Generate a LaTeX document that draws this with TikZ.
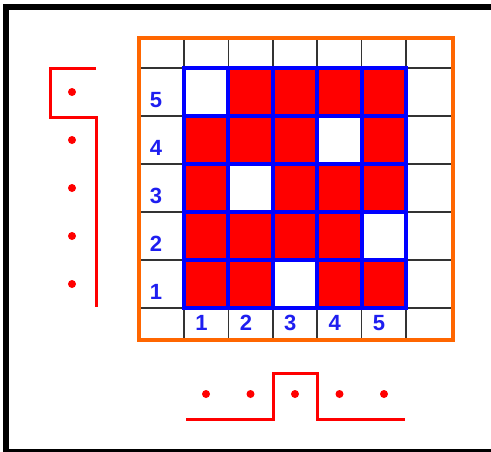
\documentclass[tikz,border=0pt]{standalone}
\usepackage{fontspec}
\setmainfont{Liberation Sans}
\usetikzlibrary{positioning, calc}
\definecolor{framecol}{RGB}{255,102,0}
\definecolor{numblue}{RGB}{30,30,240}
\tikzset{
  gridline/.style={draw=black!80, line width=1.6pt},
  blueline/.style={draw=blue, line width=4pt},
  frame/.style={draw=framecol, line width=3.5pt},
  numlabel/.style={
    text=numblue, inner sep=0pt,
    font=\bfseries\fontsize{22}{22}\selectfont
  },
  signal/.style={draw=red, line width=3pt},
  dot/.style={circle, fill=red, inner sep=0pt, minimum size=8pt}
}

\begin{document}
\begin{tikzpicture}[x=1pt, y=-1pt]
\useasboundingbox (0,0) rectangle (491,451);

% Outer border
\begin{scope}
  \clip (0,0) rectangle (491,451);
  \draw[line width=6pt] (6,6.5) rectangle (493.5,451.5);
\end{scope}

% Cells
\fill[red] (184,68) rectangle (406,308);
\foreach \c/\r in {1/5, 4/4, 2/3, 5/2, 3/1}
  \fill[white] ({184+(\c-1)*44.4},{308-\r*48}) rectangle ++(44.4,48);

% Black grid
\foreach \i in {0,...,5}
  \draw[gridline] ({184+\i*44.4},38) -- ({184+\i*44.4},340);
\foreach \j in {0,...,5}
  \draw[gridline] (139,{68+\j*48}) -- (453,{68+\j*48});

% Blue grid
\foreach \i in {1,...,4}
  \draw[blueline] ({184+\i*44.4},68) -- ({184+\i*44.4},308);
\foreach \j in {1,...,4}
  \draw[blueline] (184,{68+\j*48}) -- (406,{68+\j*48});
\draw[blueline] (184,68) rectangle (406,308);

% Orange frame
\draw[frame] (139,38) rectangle (453,340);

% Row and column numbers
\foreach \r in {1,...,5}
  \node[numlabel] (row\r) at (156,{292-(\r-1)*47.9}) {\r};
\foreach \c in {1,...,5}
  \node[numlabel] (col\c) at ({201.5+(\c-1)*44.4},323) {\c};

% Left signal
\draw[signal] (96,68) -- (50,68) -- (50,117) -- (96.5,117) -- (96.5,307);
\foreach \r in {1,...,5}
  \node[dot] (rdot\r) at (72,{284-(\r-1)*48}) {};

% Bottom signal
\draw[signal] (186,419) -- (273,419) -- (273,373) -- (317,373)
  -- (317,419) -- (405,419);
\foreach \c in {1,...,5}
  \node[dot] (cdot\c) at ({206+(\c-1)*44.5},394) {};

\end{tikzpicture}
\end{document}
